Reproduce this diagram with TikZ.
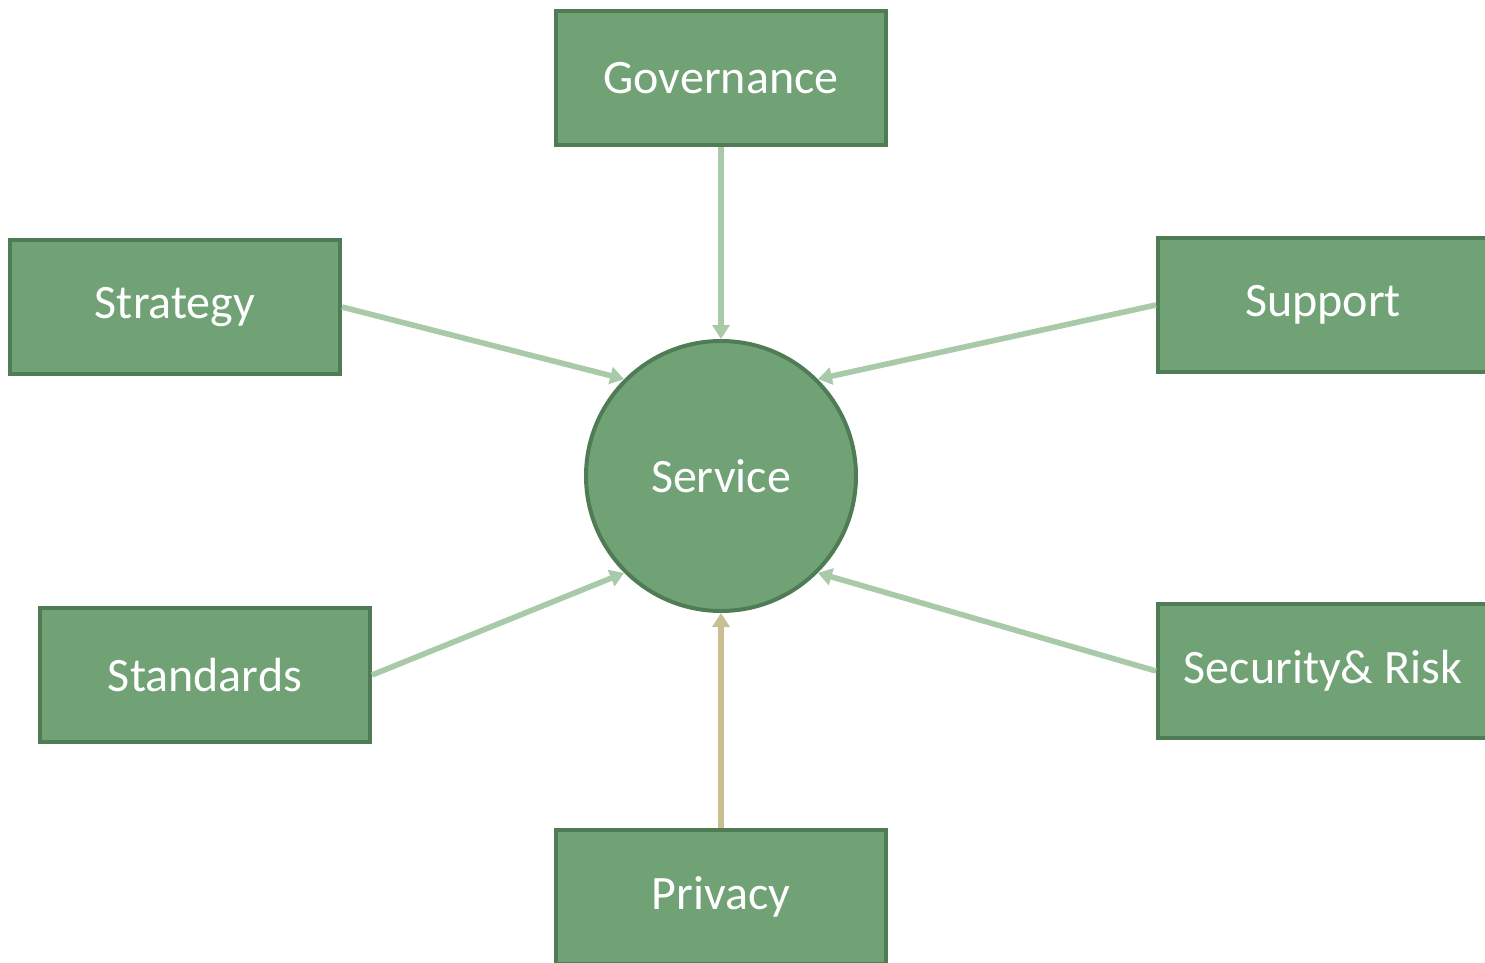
\documentclass[tikz,border=0pt]{standalone}
\usepackage{fontspec}
\setmainfont{Carlito}
\usetikzlibrary{arrows.meta}
\definecolor{boxfill}{HTML}{70A276}
\definecolor{boxline}{HTML}{4F7C54}
\definecolor{arrowgreen}{HTML}{A9CAA8}
\definecolor{arrowtan}{HTML}{C8C090}
\tikzset{
  box/.style={draw=boxline, line width=2pt, fill=boxfill, minimum width=165pt, minimum height=67pt, inner sep=0pt, text=white, font=\fontsize{24pt}{28pt}\selectfont},
  hub/.style={circle, draw=boxline, line width=2pt, fill=boxfill, minimum size=135pt, inner sep=0pt, text=white, font=\fontsize{24pt}{28pt}\selectfont},
  link/.style={draw=arrowgreen, line width=2.8pt, -{Triangle[width=8.5pt,length=7pt]}},
  linktan/.style={link, draw=arrowtan},
}
\begin{document}
\begin{tikzpicture}[x=0.5pt,y=-0.5pt]
\useasboundingbox (0,0) rectangle (1485,963);
\node[box] (gov) at (721,78) {Governance};
\node[box] (str) at (175,307) {Strategy};
\node[box] (sup) at (1323,305) {Support};
\node[box] (std) at (205,675) {Standards};
\node[box] (sec) at (1323,671) {Security\& Risk};
\node[box] (pri) at (721,897) {Privacy};
\node[hub] (svc) at (721,476) {Service};
\draw[link] (gov.south) -- (svc.north);
\draw[link] (str.east) -- (svc.135);
\draw[link] (sup.west) -- (svc.45);
\draw[link] (std.east) -- (svc.225);
\draw[link] (sec.west) -- (svc.315);
\draw[linktan] (pri.north) -- (svc.south);
\end{tikzpicture}
\end{document}
